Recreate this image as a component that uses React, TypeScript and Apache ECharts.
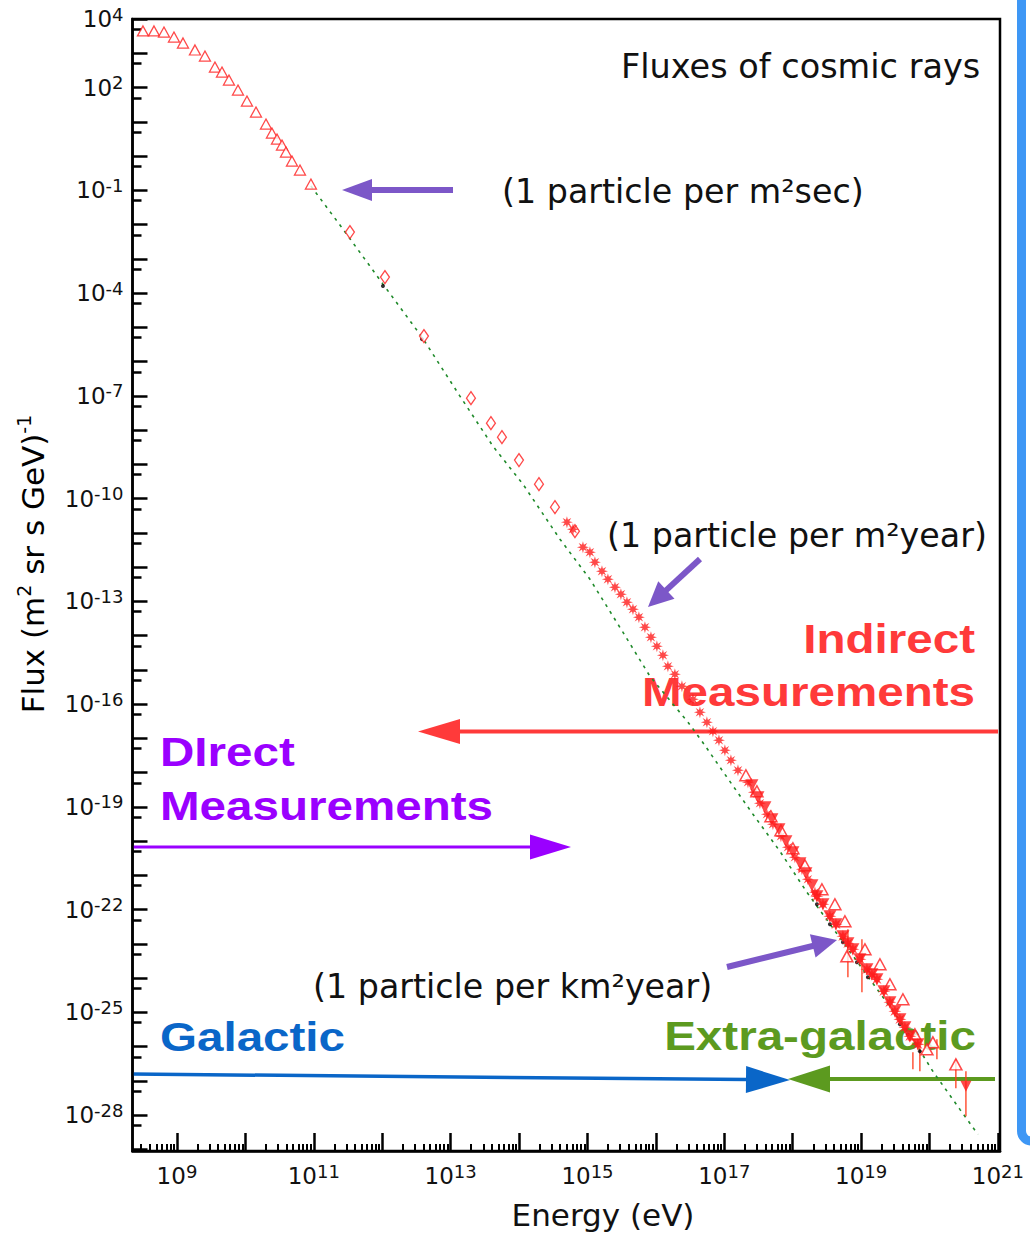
import React, { useEffect, useRef } from "react";
import * as echarts from "echarts";

// All points are stored as [log10(E / eV), log10(flux / (m^2 sr s GeV)^-1)].

// Direct measurements (open triangles)
const directTriangles: [number, number][] = [
  [8.503, 3.65], [8.664, 3.65], [8.81, 3.62], [8.956, 3.474], [9.088, 3.299],
  [9.263, 3.095], [9.409, 2.919], [9.555, 2.598], [9.658, 2.452], [9.76, 2.218],
  [9.892, 1.926], [10.023, 1.605], [10.155, 1.284], [10.301, 0.934], [10.388, 0.671],
  [10.462, 0.495], [10.535, 0.32], [10.593, 0.116], [10.681, -0.147], [10.798, -0.41],
  [10.958, -0.819],
];

// Balloon / satellite points (open diamonds)
const balloonDiamonds: [number, number][] = [
  [11.528, -2.221], [12.04, -3.535], [12.61, -5.258], [13.297, -7.069], [13.589, -7.799],
  [13.75, -8.208], [13.999, -8.879], [14.291, -9.581], [14.525, -10.252], [14.817, -10.953],
];

// Air-shower measurements (filled asterisks)
const airShowerStars: [number, number][] = [
  [14.7, -10.69], [14.788, -10.895], [14.934, -11.421], [15.036, -11.567], [15.109, -11.859],
  [15.212, -12.121], [15.299, -12.355], [15.402, -12.589], [15.489, -12.793], [15.577, -13.027],
  [15.665, -13.231], [15.752, -13.465], [15.84, -13.757], [15.928, -14.049], [16.015, -14.312],
  [16.103, -14.575], [16.176, -14.896], [16.278, -15.13], [16.381, -15.48], [16.542, -15.86],
  [16.644, -16.239], [16.746, -16.531], [16.834, -16.794], [16.922, -17.057], [17.009, -17.349],
  [17.097, -17.641], [17.2, -17.933], [17.346, -18.284], [17.433, -18.576], [17.521, -18.897],
  [17.623, -19.218], [17.711, -19.51], [17.828, -19.861], [17.93, -20.182], [18.032, -20.474],
  [18.135, -20.825], [18.222, -21.117], [18.325, -21.497],
];

// Ankle-region points (filled)
const ankleFilled: [number, number][] = [
  [17.404, -18.372], [17.492, -18.723], [17.594, -19.015], [17.696, -19.365], [17.799, -19.657],
  [17.901, -20.008], [18.003, -20.329], [18.106, -20.65], [18.193, -20.942], [18.281, -21.292],
];

// Highest-energy points (filled)
const uhecrFilled: [number, number][] = [
  [18.354, -21.614], [18.442, -21.847], [18.544, -22.197], [18.632, -22.431], [18.734, -22.782],
  [18.807, -22.986], [18.88, -23.161], [18.983, -23.453], [19.085, -23.745], [19.158, -23.891],
  [19.231, -24.037], [19.333, -24.388], [19.421, -24.709], [19.494, -24.972], [19.567, -25.206],
  [19.64, -25.439], [19.713, -25.702], [19.83, -25.936],
];

// Highest-energy points (open)
const uhecrOpen: [number, number][] = [
  [17.316, -18.079], [17.477, -18.547], [17.682, -19.277], [17.828, -19.686], [18.003, -20.212],
  [18.179, -20.708], [18.427, -21.409], [18.617, -21.847], [18.763, -22.343], [19.056, -23.161],
  [19.275, -23.599], [19.421, -24.183], [19.611, -24.621], [19.786, -25.644], [20.049, -25.877],
  [19.962, -26.082], [18.792, -23.366], [20.385, -26.52],
];

// Upper limit (filled, pointing down)
const upperLimits: [number, number][] = [[20.532, -27.162]];

// Error bars: [log10 E, low, high]
const errorBars: [number, number, number][] = [
  [18.807, -23.979, -22.577], [19.012, -24.417, -22.869], [19.757, -26.666, -26.169],
  [19.859, -26.724, -25.994], [20.108, -26.374, -25.79], [20.385, -27.221, -26.374],
  [20.532, -28.039, -26.724],
];

// Model points on the fit
const modelDots: [number, number][] = [
  [12.011, -3.798], [12.581, -5.346], [18.354, -21.847], [18.544, -22.431], [18.734, -22.957],
  [18.939, -23.541], [19.099, -23.979], [19.567, -25.352], [19.684, -25.644], [19.859, -26.141],
];

// Power-law fit (dotted green)
const fitCurve: [number, number][] = [
  [10.958, -0.877], [11.426, -2.133], [12.011, -3.74], [12.581, -5.287], [13.136, -7.011],
  [13.618, -8.471], [14.057, -9.581], [14.598, -11.187], [15.036, -12.355], [15.518, -13.903],
  [15.913, -15.188], [16.469, -16.531], [16.673, -17.086], [17.039, -18.138], [17.419, -19.218],
  [17.813, -20.299], [18.208, -21.497], [19.713, -25.644], [20.049, -26.724], [20.444, -27.834],
  [20.707, -28.564],
];

// Axis ranges and ticks (exponents)
const xRange: [number, number] = [8.35, 21.03];
const yRange: [number, number] = [-29.05, 4];
const xDecades = [9, 10, 11, 12, 13, 14, 15, 16, 17, 18, 19, 20, 21];
const xLabelExps = [9, 11, 13, 15, 17, 19, 21];
const yDecades: number[] = [];
for (let n = -29; n <= 4; n++) yDecades.push(n);
const yLabelExps = [-28, -25, -22, -19, -16, -13, -10, -7, -4, -1, 2, 4];

const xMinorTicks: number[] = [];
for (let n = 8; n <= 20; n++) {
  for (let k = 2; k <= 9; k++) {
    const v = n + Math.log10(k);
    if (v > xRange[0] && v < xRange[1]) xMinorTicks.push(v);
  }
}
const yMinorTicks: number[] = [];
for (let n = -30; n <= 3; n++) {
  const v = n + Math.log10(5);
  if (v > yRange[0] && v < yRange[1]) yMinorTicks.push(v);
}

const FONT = "DejaVu Sans";
const BOLD_FONT = "Liberation Sans";

function starSymbol(points = 8, rOut = 10, rIn = 4.2): string {
  let d = "";
  for (let i = 0; i < points * 2; i++) {
    const r = i % 2 ? rIn : rOut;
    const a = (i * Math.PI) / points;
    const x = 10 + r * Math.sin(a);
    const y = 10 - r * Math.cos(a);
    d += (i ? "L" : "M") + x.toFixed(2) + " " + y.toFixed(2);
  }
  return "path://" + d + "Z";
}

function arrow(
  x1: number, y1: number, x2: number, y2: number,
  color: string, width: number, headLen: number, headHalf: number
) {
  const dx = x2 - x1;
  const dy = y2 - y1;
  const len = Math.hypot(dx, dy);
  const ux = dx / len;
  const uy = dy / len;
  const bx = x2 - ux * headLen;
  const by = y2 - uy * headLen;
  const px = -uy;
  const py = ux;
  return {
    type: "group",
    z: 5,
    children: [
      {
        type: "line",
        shape: { x1, y1, x2: bx + ux * 2, y2: by + uy * 2 },
        style: { stroke: color, lineWidth: width },
      },
      {
        type: "polygon",
        shape: {
          points: [
            [x2, y2],
            [bx + px * headHalf, by + py * headHalf],
            [bx - px * headHalf, by - py * headHalf],
          ],
        },
        style: { fill: color },
      },
    ],
  };
}

function plainText(text: string, x: number, y: number, size: number, align = "left") {
  return {
    type: "text",
    x,
    y,
    z: 5,
    style: {
      text,
      fill: "#111",
      fontFamily: FONT,
      fontSize: size,
      align,
      verticalAlign: "middle",
    },
  };
}

function boldText(text: string, x: number, y: number, color: string, align = "left") {
  return {
    type: "text",
    x,
    y,
    z: 1,
    scaleX: 1.16,
    style: {
      text,
      fill: color,
      fontFamily: BOLD_FONT,
      fontWeight: "bold",
      fontSize: 41,
      align,
      verticalAlign: "middle",
    },
  };
}

const powLabel = (v: number) => `{b|10}{s|${Math.round(v)}}`;
const labelRich = {
  b: { fontFamily: FONT, fontSize: 23, lineHeight: 28, color: "#111" },
  s: { fontFamily: FONT, fontSize: 18, lineHeight: 18, verticalAlign: "top", color: "#111" },
};

const toPoints = (arr: [number, number][]) => arr.map((p) => [p[0], p[1]]);

export default function App() {
  const ref = useRef<HTMLDivElement>(null);

  useEffect(() => {
    if (!ref.current) return;
    const chart = echarts.init(ref.current, undefined, { renderer: "svg" });

    const red = "#ff1c1c";
    const baseX = {
      type: "value",
      min: xRange[0],
      max: xRange[1],
      position: "bottom",
      splitLine: { show: false },
    };
    const baseY = {
      type: "value",
      min: yRange[0],
      max: yRange[1],
      position: "left",
      splitLine: { show: false },
    };

    chart.setOption({
      animation: false,
      backgroundColor: "#fff",
      grid: {
        left: 132.5,
        top: 19,
        width: 867.5,
        height: 1132,
        show: true,
        borderColor: "#000",
        borderWidth: 2.5,
        backgroundColor: "transparent",
        outerBoundsMode: "none",
        containLabel: false,
      },
      xAxis: [
        {
          ...baseX,
          axisLine: { show: true, onZero: false, lineStyle: { color: "#000", width: 2.5 } },
          axisTick: {
            show: true,
            inside: true,
            length: 18,
            customValues: xDecades,
            lineStyle: { color: "#000", width: 2.5 },
          },
          axisLabel: {
            show: true,
            margin: 11,
            customValues: xLabelExps,
            formatter: powLabel,
            rich: labelRich,
          },
        },
        {
          ...baseX,
          axisLine: { show: false, onZero: false },
          axisTick: {
            show: true,
            inside: true,
            length: 7,
            customValues: xMinorTicks,
            lineStyle: { color: "#000", width: 2 },
          },
          axisLabel: { show: false },
        },
      ],
      yAxis: [
        {
          ...baseY,
          axisLine: { show: true, onZero: false, lineStyle: { color: "#000", width: 2.5 } },
          axisTick: {
            show: true,
            inside: true,
            length: 15,
            customValues: yDecades,
            lineStyle: { color: "#000", width: 2.5 },
          },
          axisLabel: {
            show: true,
            margin: 9,
            customValues: yLabelExps,
            formatter: powLabel,
            rich: labelRich,
          },
        },
        {
          ...baseY,
          axisLine: { show: false, onZero: false },
          axisTick: {
            show: true,
            inside: true,
            length: 9,
            customValues: yMinorTicks,
            lineStyle: { color: "#000", width: 2.5 },
          },
          axisLabel: { show: false },
        },
      ],
      series: [
        {
          name: "Fit",
          type: "line",
          data: toPoints(fitCurve),
          showSymbol: false,
          smooth: false,
          lineStyle: { color: "#1f8a2a", width: 1.6, type: [3, 5] },
          z: 2,
        },
        {
          name: "Model",
          type: "scatter",
          data: toPoints(modelDots),
          symbol: "circle",
          symbolSize: 4,
          itemStyle: { color: "#000" },
          z: 3,
        },
        {
          name: "Error bars",
          type: "custom",
          data: errorBars,
          encode: { x: 0, y: [1, 2] },
          renderItem: (_params: any, api: any) => {
            const x = api.value(0);
            const p1 = api.coord([x, api.value(1)]);
            const p2 = api.coord([x, api.value(2)]);
            return {
              type: "line",
              shape: { x1: p1[0], y1: p1[1], x2: p2[0], y2: p2[1] },
              style: { stroke: "#ff3a1a", lineWidth: 1.3 },
            };
          },
          z: 3,
        },
        {
          name: "Direct",
          type: "scatter",
          data: toPoints(directTriangles),
          symbol: "triangle",
          symbolSize: [11, 10],
          itemStyle: { color: "#fff", borderColor: red, borderWidth: 1.3 },
          z: 4,
        },
        {
          name: "Balloon",
          type: "scatter",
          data: toPoints(balloonDiamonds),
          symbol: "diamond",
          symbolSize: [9, 13],
          itemStyle: { color: "#fff", borderColor: red, borderWidth: 1.3 },
          z: 4,
        },
        {
          name: "Air shower",
          type: "scatter",
          data: toPoints(airShowerStars),
          symbol: starSymbol(),
          symbolSize: 12,
          itemStyle: { color: red },
          z: 4,
        },
        {
          name: "UHECR open",
          type: "scatter",
          data: toPoints(uhecrOpen),
          symbol: "triangle",
          symbolSize: [12, 11],
          itemStyle: { color: "#fff", borderColor: red, borderWidth: 1.5 },
          z: 4,
        },
        {
          name: "Ankle",
          type: "scatter",
          data: toPoints(ankleFilled),
          symbol: "triangle",
          symbolRotate: 180,
          symbolSize: [13, 12],
          itemStyle: { color: red },
          z: 4,
        },
        {
          name: "UHECR",
          type: "scatter",
          data: toPoints(uhecrFilled),
          symbol: "triangle",
          symbolRotate: 180,
          symbolSize: [13, 12],
          itemStyle: { color: red },
          z: 4,
        },
        {
          name: "UHECR stars",
          type: "scatter",
          data: toPoints(uhecrFilled),
          symbol: starSymbol(),
          symbolSize: 13,
          itemStyle: { color: red },
          z: 4,
        },
        {
          name: "Upper limit",
          type: "scatter",
          data: toPoints(upperLimits),
          symbol: "triangle",
          symbolRotate: 180,
          symbolSize: [11, 11],
          itemStyle: { color: red },
          z: 4,
        },
      ],
      graphic: [
        // frame to the right of the plot
        {
          type: "rect",
          z: 0,
          shape: { x: 1021.5, y: -20, width: 40, height: 1161, r: 10 },
          style: { fill: "none", stroke: "#3e97f5", lineWidth: 9 },
        },
        // axis names
        {
          type: "text",
          x: 603,
          y: 1215,
          style: {
            text: "Energy (eV)",
            fill: "#111",
            fontFamily: FONT,
            fontSize: 31,
            align: "center",
            verticalAlign: "middle",
          },
        },
        {
          type: "text",
          x: 33,
          y: 564,
          rotation: Math.PI / 2,
          style: {
            text: "{a|Flux (m}{s|2}{a| sr s GeV)}{t|-1}",
            align: "center",
            verticalAlign: "middle",
            rich: {
              a: { fontFamily: FONT, fontSize: 31, lineHeight: 38, color: "#111" },
              s: { fontFamily: FONT, fontSize: 19, lineHeight: 26, verticalAlign: "top", color: "#111" },
              t: { fontFamily: FONT, fontSize: 19, lineHeight: 20, verticalAlign: "top", color: "#111" },
            },
          },
        },
        plainText("Fluxes of cosmic rays", 621, 66, 33.5),
        plainText("(1 particle per m\u00B2sec)", 502, 191, 33.3),
        plainText("(1 particle per m\u00B2year)", 607, 535, 33.3),
        plainText("(1 particle per km\u00B2year)", 313, 986, 33.3),
        boldText("Indirect", 975, 639, "#ff3a3a", "right"),
        boldText("Measurements", 975, 692, "#ff3a3a", "right"),
        boldText("DIrect", 160, 752, "#9a00ff"),
        boldText("Measurements", 160, 806, "#9a00ff"),
        boldText("Galactic", 160, 1037, "#0a66c8"),
        boldText("Extra-galactic", 976, 1036, "#5c9a1f", "right"),
        arrow(453, 190, 342, 190, "#7c57c8", 6, 30, 11),
        arrow(700, 559, 648, 607, "#7c57c8", 6, 25, 12),
        arrow(727, 967, 837, 940, "#7c57c8", 6, 25, 12),
        arrow(998, 731.5, 418, 731.5, "#ff3a3a", 4, 42, 12.5),
        arrow(132, 847, 571, 847, "#9a00ff", 3, 41, 12.5),
        arrow(132, 1074, 790, 1080, "#0a66c8", 3.5, 44, 13.5),
        arrow(995, 1079, 788, 1079, "#5c9a1f", 4, 42, 13.5),
      ],
    });

    return () => chart.dispose();
  }, []);

  return (
    <div
      ref={ref}
      style={{ position: "absolute", left: 0, top: 0, width: 1030, height: 1235 }}
    />
  );
}
